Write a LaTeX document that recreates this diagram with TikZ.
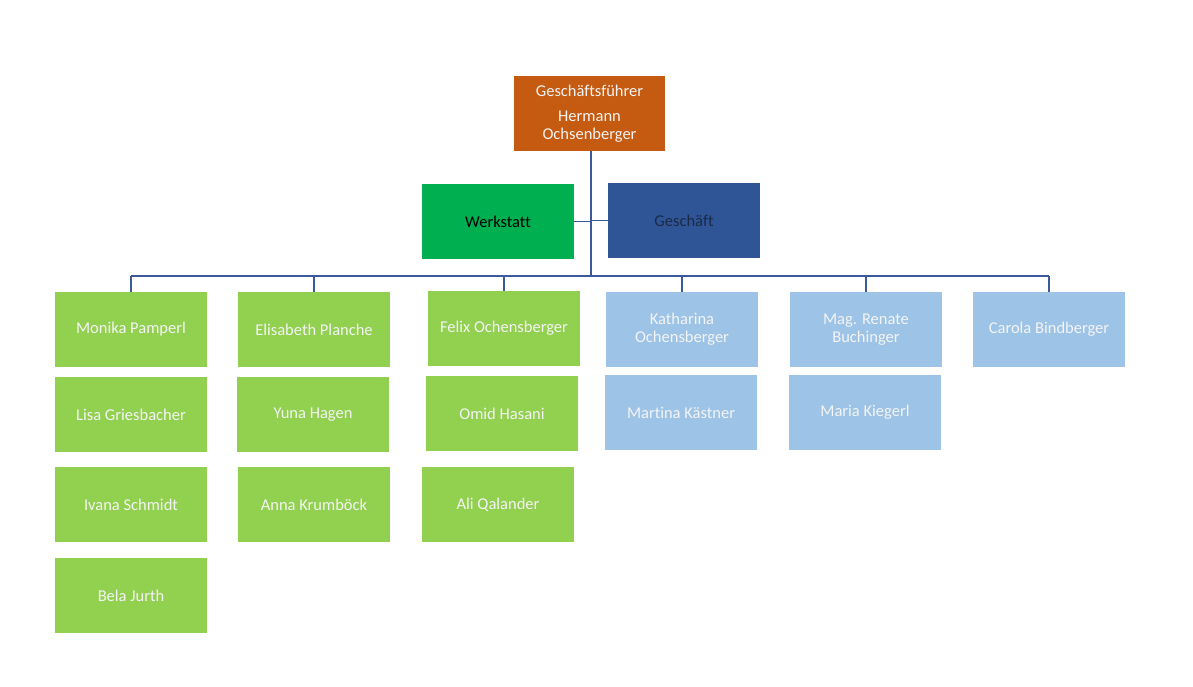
\documentclass[tikz,border=0pt]{standalone}
\usepackage{fontspec}
\setmainfont[RawFeature={-liga}]{Carlito}
\definecolor{ceoC}{HTML}{C55A11}
\definecolor{werkC}{HTML}{00B050}
\definecolor{geschC}{HTML}{2F5597}
\definecolor{lgreen}{HTML}{92D050}
\definecolor{lblue}{HTML}{9DC3E6}
\definecolor{lineC}{HTML}{3A5A9A}
\definecolor{txtW}{HTML}{F4F4F4}
\definecolor{navyT}{HTML}{1B2A47}
\begin{document}
\begin{tikzpicture}[x=1pt,y=-1pt,
  box/.style={rectangle, minimum width=152pt, minimum height=75pt, inner sep=2pt,
    align=center, text=txtW, font=\fontsize{16.5}{18}\selectfont},
  gbox/.style={box, fill=lgreen},
  bbox/.style={box, fill=lblue},
  conn/.style={draw=lineC, line width=1.6pt}]
\useasboundingbox (0,0) rectangle (1193,686);
\fill[white] (0,0) rectangle (1193,686);

\node[box, fill=ceoC, minimum width=151pt] (ceo) at (589.5,113.5) {Geschäftsführer\\[7pt]Hermann\\Ochsenberger};
\node[box, fill=werkC, text=black] (werk) at (498,221.5) {Werkstatt};
\node[box, fill=geschC, text=navyT] (gesch) at (684,220.5) {Geschäft};

\node[gbox] (monika) at (131,329.5) {Monika Pamperl};
\node[gbox] (lisa) at (131,414.5) {Lisa Griesbacher};
\node[gbox] (ivana) at (131,504.5) {Ivana Schmidt};
\node[gbox] (bela) at (131,595.5) {Bela Jurth};

\node[gbox] (elisabeth) at (314,329.5) {Elisabeth Planche};
\node[gbox] (yuna) at (313,414.5) {Yuna Hagen};
\node[gbox] (anna) at (314,504.5) {Anna Krumböck};

\node[gbox] (felix) at (504,328.5) {Felix Ochensberger};
\node[gbox] (omid) at (502,413.5) {Omid Hasani};
\node[gbox] (ali) at (498,504.5) {Ali Qalander};

\node[bbox] (katharina) at (682,329.5) {Katharina\\Ochensberger};
\node[bbox] (martina) at (681,412.5) {Martina Kästner};

\node[bbox] (renate) at (866,329.5) {Mag. Renate\\Buchinger};
\node[bbox] (maria) at (865,412.5) {Maria Kiegerl};

\node[bbox] (carola) at (1049,329.5) {Carola Bindberger};

\coordinate (top) at ([xshift=1.5pt]ceo.south);
\coordinate (hub) at (top |- 0,276);
\draw[conn] (top) -- (hub);
\draw[conn] (werk.east) -- (werk.east -| top);
\draw[conn] (gesch.west) -- (gesch.west -| top);
\draw[conn] (monika.north |- hub) -- (carola.north |- hub);
\foreach \n in {monika,elisabeth,felix,katharina,renate,carola}
  \draw[conn] (\n.north |- hub) -- (\n.north);
\end{tikzpicture}
\end{document}
